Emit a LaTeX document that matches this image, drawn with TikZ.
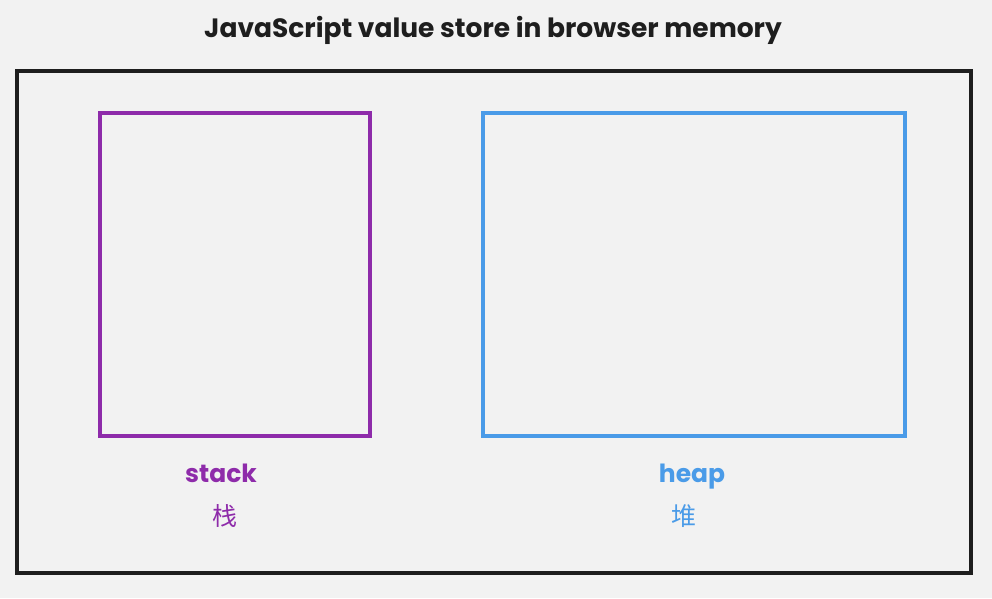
\documentclass[tikz,border=0pt]{standalone}
\usepackage{fontspec}
\setmainfont{Poppins}
\newfontfamily\cjk{Noto Sans CJK SC}
\definecolor{bg}{HTML}{F2F2F2}
\definecolor{ink}{HTML}{1E1E1E}
\definecolor{stackc}{HTML}{8E2BAA}
\definecolor{heapc}{HTML}{4A9BE8}
\begin{document}
\begin{tikzpicture}[x=1pt,y=-1pt,
  frame/.style={draw=ink,line width=3.5pt},
  membox/.style={line width=3.5pt},
  lbl/.style={font=\fontsize{25}{28}\selectfont\bfseries,anchor=base},
  cjklbl/.style={font=\cjk\fontsize{25}{28}\selectfont,anchor=base}]
\useasboundingbox[fill=bg] (0,0) rectangle (992,598);
\node[font=\fontsize{26.5}{30}\selectfont\bfseries,text=ink,anchor=base] (title) at (493,37) {JavaScript value store in browser memory};
\draw[frame] (17,71) rectangle (971,573);
\node[membox,draw=stackc,minimum width=270pt,minimum height=323pt,inner sep=0pt] (stack) at (235,274.5) {};
\node[membox,draw=heapc,minimum width=422pt,minimum height=323pt,inner sep=0pt] (heap) at (694,274.5) {};
\node[lbl,text=stackc] (stacklbl) at (221,482) {stack};
\node[cjklbl,text=stackc] (stackcn) at (225,525) {栈};
\node[lbl,text=heapc] (heaplbl) at (692,482) {heap};
\node[cjklbl,text=heapc] (heapcn) at (684,525) {堆};
\end{tikzpicture}
\end{document}
